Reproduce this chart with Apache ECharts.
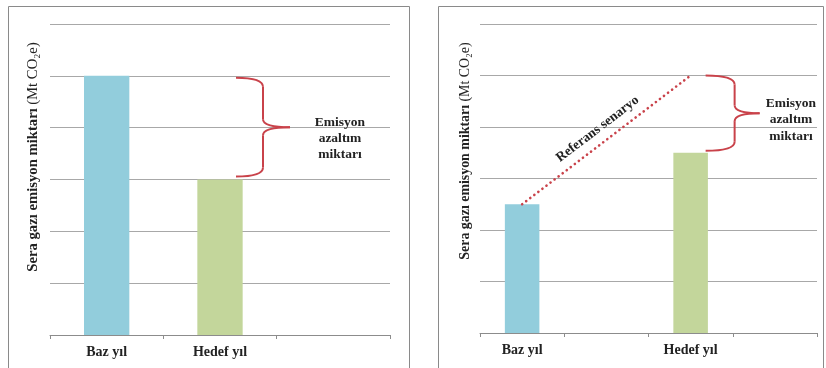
<!DOCTYPE html>
<html><head><meta charset="utf-8">
<script src="https://cdn.jsdelivr.net/npm/echarts@6/dist/echarts.min.js"></script>
<style>html,body{margin:0;padding:0;background:#fff}#c{width:826px;height:368px}</style>
</head><body><div id="c"></div>
<script>
// Left panel data
var leftCategories = ['Baz yıl', 'Hedef yıl', ''];
var leftValues = [5, 3, null];
// Right panel data
var rightCategories = ['Baz yıl', '', 'Hedef yıl', ''];
var rightValues = [2.5, null, 3.5, null];
var referenceScenario = [2.5, null, 5, null];
var yTicks = [0, 1, 2, 3, 4, 5, 6];
var barColors = ['#92cddc', '#c3d69b'];
var yAxisTitle = 'Sera gazı emisyon miktarı';
var yAxisUnit = '(Mt CO₂e)';
var braceText = 'Emisyon\nazaltım\nmiktarı';
var refText = 'Referans senaryo';

var SERIF = '"Liberation Serif", "Times New Roman", serif';
var RED = '#c9424a';
var GRID = '#a8a8a8';

function colored(vals) {
  var out = [], ci = 0;
  vals.forEach(function (v) {
    if (v == null) { out.push('-'); return; }
    out.push({ value: v, itemStyle: { color: barColors[ci++ % barColors.length] } });
  });
  return out;
}

function xAx(idx, cats) {
  return {
    type: 'category', gridIndex: idx, data: cats, boundaryGap: true,
    axisLine: { lineStyle: { color: '#8c8c8c', width: 1 } },
    axisTick: { show: true, length: 4, inside: false, lineStyle: { color: '#8c8c8c' } },
    axisLabel: { color: '#222', fontFamily: SERIF, fontWeight: 'bold', fontSize: 14, margin: 10, interval: 0 }
  };
}
function yAx(idx) {
  return {
    type: 'value', gridIndex: idx, min: yTicks[0], max: yTicks[yTicks.length - 1], interval: 1,
    axisLine: { show: false }, axisTick: { show: false }, axisLabel: { show: false },
    splitLine: { lineStyle: { color: GRID, width: 1 } }
  };
}

var chart = echarts.init(document.getElementById('c'), null, { renderer: 'canvas' });
var option = {
  backgroundColor: '#fff',
  animation: false,
  grid: [
    { left: 50, right: 436, top: 24, bottom: 33 },
    { left: 480, right: 9, top: 24, bottom: 35 }
  ],
  xAxis: [xAx(0, leftCategories), xAx(1, rightCategories)],
  yAxis: [yAx(0), yAx(1)],
  series: [
    { type: 'bar', xAxisIndex: 0, yAxisIndex: 0, data: colored(leftValues), barWidth: '40%' },
    { type: 'bar', xAxisIndex: 1, yAxisIndex: 1, data: colored(rightValues), barWidth: '41%' },
    { type: 'line', xAxisIndex: 1, yAxisIndex: 1, data: referenceScenario.map(function (v) { return v == null ? '-' : v; }),
      connectNulls: true, symbol: 'none', z: 5,
      lineStyle: { color: RED, width: 2.6, type: [0.1, 5], cap: 'round' } }
  ]
};
chart.setOption(option);

function px(gi, cat, val) {
  return chart.convertToPixel({ gridIndex: gi }, [cat, val]);
}
function brace(x0, x1, x2, yT, yB) {
  var ym = (yT + yB) / 2;
  var st = { stroke: RED, lineWidth: 2, fill: null };
  function q(ax, ay, cx, cy, bx, by) {
    return { type: 'bezierCurve', shape: { x1: ax, y1: ay, x2: bx, y2: by, cpx1: cx, cpy1: cy }, style: st, z: 10 };
  }
  function ln(ax, ay, bx, by) {
    return { type: 'line', shape: { x1: ax, y1: ay, x2: bx, y2: by }, style: st, z: 10 };
  }
  return [
    q(x0, yT, x1, yT, x1, yT + 9),
    ln(x1, yT + 9, x1, ym - 8),
    q(x1, ym - 8, x1, ym, x2, ym),
    q(x2, ym, x1, ym, x1, ym + 8),
    ln(x1, ym + 8, x1, yB - 9),
    q(x1, yB - 9, x1, yB, x0, yB)
  ];
}

var lTop = px(0, 'Hedef yıl', leftValues[0]);
var lBot = px(0, 'Hedef yıl', leftValues[1]);
var lx = lTop[0];
var rTop = px(1, 'Hedef yıl', referenceScenario[2]);
var rBot = px(1, 'Hedef yıl', rightValues[2]);
var rx = rTop[0];
var rStart = px(1, 'Baz yıl', referenceScenario[0]);
var angle = Math.atan2(rStart[1] - rTop[1], rTop[0] - rStart[0]);
var mid = [(rStart[0] + rTop[0]) / 2, (rStart[1] + rTop[1]) / 2];
var off = 11;
var tx = mid[0] - Math.sin(angle) * off - 2;
var ty = mid[1] - Math.cos(angle) * off - 2;

function yTitle(cx, cy, fs) {
  return {
    type: 'text', x: cx, y: cy, rotation: Math.PI / 2, z: 10,
    style: {
      text: '{b|' + yAxisTitle + '} {r|' + yAxisUnit + '}',
      align: 'center', verticalAlign: 'middle',
      rich: {
        b: { fontFamily: SERIF, fontWeight: 'bold', fontSize: fs, fill: '#222' },
        r: { fontFamily: SERIF, fontWeight: 'normal', fontSize: fs, fill: '#222' }
      }
    }
  };
}
var els = [
  { type: 'rect', shape: { x: 8.5, y: 6.5, width: 401, height: 380 }, style: { fill: null, stroke: '#8a8a8a', lineWidth: 1 }, z: 1 },
  { type: 'rect', shape: { x: 438.5, y: 6.5, width: 385, height: 380 }, style: { fill: null, stroke: '#8a8a8a', lineWidth: 1 }, z: 1 },
  yTitle(33, 157, 14.7),
  yTitle(465, 151, 13.9),
  { type: 'text', x: 340, y: 139, z: 10, style: { text: braceText, align: 'center', verticalAlign: 'middle', lineHeight: 16, fontFamily: SERIF, fontWeight: 'bold', fontSize: 13.5, fill: '#222' } },
  { type: 'text', x: 791, y: 120, z: 10, style: { text: braceText, align: 'center', verticalAlign: 'middle', lineHeight: 16.5, fontFamily: SERIF, fontWeight: 'bold', fontSize: 13.5, fill: '#222' } },
  { type: 'text', x: tx, y: ty, rotation: angle, z: 10, style: { text: refText, align: 'center', verticalAlign: 'middle', fontFamily: SERIF, fontWeight: 'bold', fontSize: 13.5, fill: '#222' } }
];
els = els.concat(brace(lx + 16, lx + 43, lx + 70, lTop[1] + 2, lBot[1] - 3));
els = els.concat(brace(rx + 15, rx + 44, rx + 69, rTop[1], rBot[1] - 2));
chart.setOption({ graphic: els });
</script>
</body></html>
